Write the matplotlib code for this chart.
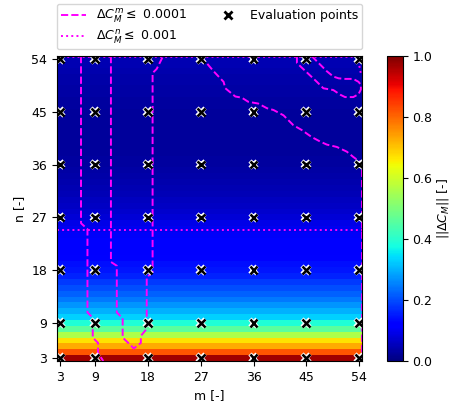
import numpy as np
import matplotlib
matplotlib.use("Agg")
import matplotlib.pyplot as plt
import matplotlib.patheffects as pe
from matplotlib.lines import Line2D

plt.rcParams["font.size"] = 9

# grid of the surrogate field (every integer m and n)
m_values = np.arange(3, 55)
n_values = np.arange(3, 55)

# ||dC_M|| read per n row (field is nearly constant along m)
dcm_per_n = [
    0.97, 0.82, 0.73, 0.67, 0.56, 0.46, 0.39, 0.33, 0.30, 0.27,
    0.245, 0.22, 0.20, 0.18, 0.16, 0.148, 0.138, 0.128, 0.122, 0.116,
    0.111, 0.106, 0.100, 0.090, 0.078, 0.068, 0.062, 0.056, 0.050, 0.045,
    0.040, 0.036, 0.033, 0.030, 0.028, 0.026, 0.025, 0.024, 0.024, 0.024,
    0.025, 0.026, 0.027, 0.029, 0.031, 0.033, 0.035, 0.037, 0.039, 0.041,
    0.043, 0.045,
]

# evaluation points
eval_ticks = [3, 9, 18, 27, 36, 45, 54]

# dC_M^m <= 0.0001 contour paths (m, n)
dash_a_m = [6.6, 6.6, 7.7, 7.7, 8.6, 8.6, 9.5, 9.5, 10.4]
dash_a_n = [54.5, 26.0, 25.0, 10.8, 9.9, 6.5, 5.6, 3.9, 2.5]
dash_b_m = [11.7, 11.7, 12.7, 12.7, 13.7, 13.7, 14.65, 15.6, 16.8, 16.8,
            17.8, 17.8, 18.8, 18.8, 19.5, 20.6]
dash_b_n = [54.5, 19.4, 18.75, 10.8, 9.8, 6.5, 5.6, 4.65, 5.6, 6.8,
            8.0, 16.75, 17.7, 51.6, 52.3, 54.5]
dash_c_m = [27.0, 29.2, 30.9, 31.2, 32.9, 34.0, 35.1, 36.8, 38.3, 39.4,
            41.1, 42.8, 44.2, 45.9, 47.4, 48.5, 50.2, 51.9, 53.0, 54.5, 54.5]
dash_c_n = [54.5, 51.9, 50.1, 49.0, 47.6, 47.4, 46.7, 46.4, 45.6, 45.3,
            44.4, 42.7, 41.9, 40.7, 39.9, 39.4, 39.0, 38.2, 37.3, 36.2, 2.5]
dash_d_m = [43.4, 43.4, 46.8, 47.9, 49.6, 50.8, 51.6, 53.0, 53.9, 54.3,
            54.3, 53.9, 53.0, 51.6, 50.5, 49.6, 48.5, 45.9]
dash_d_n = [54.5, 53.3, 50.1, 49.0, 48.7, 47.9, 47.5, 47.5, 48.0, 48.8,
            49.6, 50.1, 50.6, 50.6, 50.7, 51.0, 51.9, 54.5]

# dC_M^n <= 0.001 contour paths (m, n)
dot_a_m = [2.5, 54.5]
dot_a_n = [24.9, 24.9]
dot_b_m = [2.5, 53.6, 54.0, 54.3]
dot_b_n = [54.35, 54.35, 53.0, 51.5]


def plot_convergence():
    fig = plt.figure(figsize=(4.52, 4.03), dpi=100)
    ax = fig.add_axes([0.126, 0.104, 0.675, 0.757])
    cax = fig.add_axes([0.856, 0.104, 0.035, 0.757])

    field = np.tile(np.array(dcm_per_n)[:, None], (1, len(m_values)))
    mesh = ax.pcolormesh(m_values, n_values, field, cmap="jet",
                         vmin=0.0, vmax=1.0, shading="nearest")

    for xs, ys in [(dash_a_m, dash_a_n), (dash_b_m, dash_b_n),
                   (dash_c_m, dash_c_n), (dash_d_m, dash_d_n)]:
        ax.plot(xs, ys, color="magenta", linestyle="--", linewidth=1.4)
    for xs, ys in [(dot_a_m, dot_a_n), (dot_b_m, dot_b_n)]:
        ax.plot(xs, ys, color="magenta", linestyle=":", linewidth=1.4)

    mm, nn = np.meshgrid(eval_ticks, eval_ticks)
    ax.plot(mm.ravel(), nn.ravel(), linestyle="none", marker="x",
            markersize=5.5, markeredgewidth=1.8, color="black",
            path_effects=[pe.withStroke(linewidth=3.2, foreground="white")])

    ax.set_xlim(2.5, 54.5)
    ax.set_ylim(2.5, 54.5)
    ax.set_xticks(eval_ticks)
    ax.set_yticks(eval_ticks)
    ax.set_xlabel("m [-]")
    ax.set_ylabel("n [-]")

    handles = [
        Line2D([], [], color="magenta", linestyle="--", linewidth=1.4),
        Line2D([], [], color="magenta", linestyle=":", linewidth=1.4),
        Line2D([], [], color="black", linestyle="none", marker="x",
               markersize=6, markeredgewidth=2),
    ]
    labels = [r"$\Delta C_M^m \leq$ 0.0001", r"$\Delta C_M^n \leq$ 0.001",
              "Evaluation points"]
    ax.legend(handles, labels, loc="lower left", ncol=2, mode="expand",
              bbox_to_anchor=(0.0, 1.022, 1.0, 0.1), borderaxespad=0.0,
              labelspacing=0.25, borderpad=0.3)

    cbar = fig.colorbar(mesh, cax=cax)
    cbar.set_label(r"$||\Delta C_M||$ [-]", labelpad=2)
    cbar.set_ticks([0.0, 0.2, 0.4, 0.6, 0.8, 1.0])

    fig.savefig("out.png", dpi=100)


if __name__ == "__main__":
    plot_convergence()
